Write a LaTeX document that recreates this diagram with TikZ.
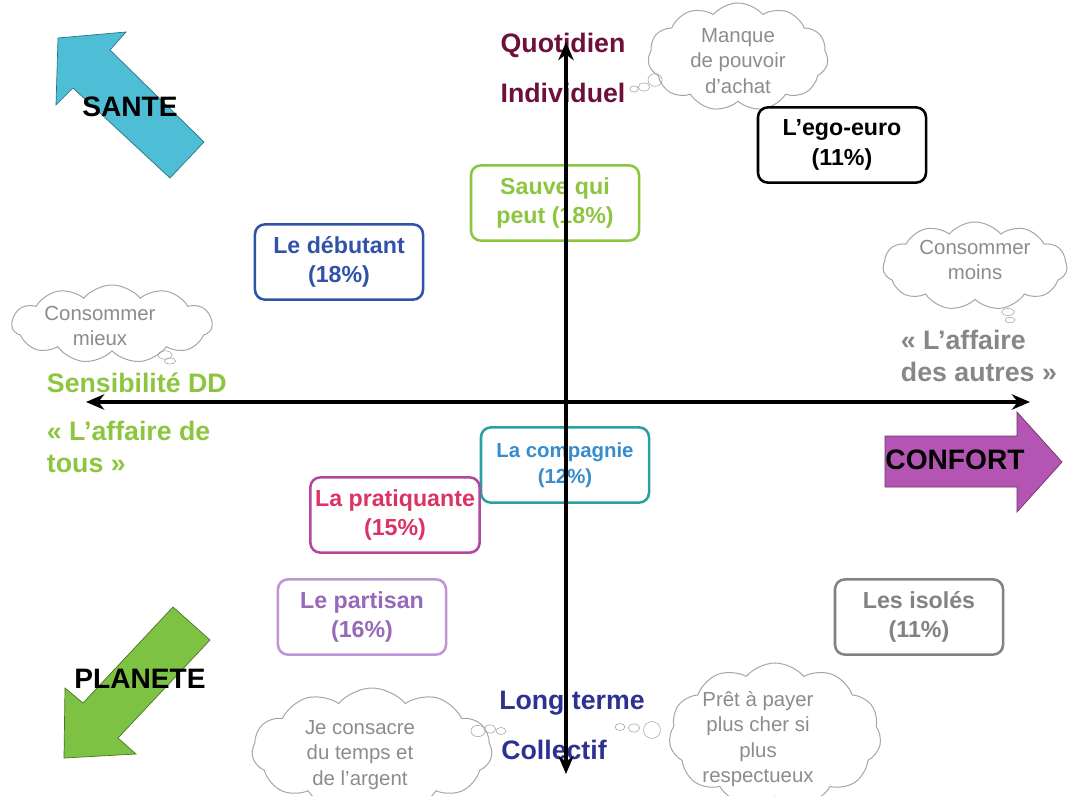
\documentclass[tikz,border=0pt]{standalone}
\usepackage{fontspec}
\setmainfont{Liberation Sans}
\usepackage{xcolor}
\usepackage{tikz}
\usetikzlibrary{shapes.geometric, shapes.symbols, arrows.meta}

\definecolor{santecol}{RGB}{77,190,214}
\definecolor{planetecol}{RGB}{125,194,66}
\definecolor{confortcol}{RGB}{180,85,180}
\definecolor{quotcol}{RGB}{110,15,60}
\definecolor{longcol}{RGB}{45,50,145}
\definecolor{ddgreen}{RGB}{140,198,63}
\definecolor{autrescol}{RGB}{135,135,135}
\definecolor{debcol}{RGB}{48,82,168}
\definecolor{compline}{RGB}{40,160,160}
\definecolor{comptext}{RGB}{55,140,205}
\definecolor{pratline}{RGB}{178,70,160}
\definecolor{prattext}{RGB}{220,50,100}
\definecolor{partline}{RGB}{190,150,215}
\definecolor{parttext}{RGB}{150,105,185}
\definecolor{isolcol}{RGB}{130,130,130}
\definecolor{cloudline}{RGB}{165,165,165}
\definecolor{cloudtext}{RGB}{140,140,140}

\newcommand\grpfont{\fontsize{16.5}{21}\selectfont\bfseries}
\newcommand\axfont{\fontsize{19}{22.5}\selectfont\bfseries}
\newcommand\bubfont{\fontsize{14.5}{18}\selectfont}

\tikzset{
  groupbox/.style={draw, rounded corners=7pt, line width=1.8pt,
    minimum width=4.2cm, minimum height=1.88cm, align=center, font=\grpfont},
  bubble/.style={cloud, cloud puffs=11, cloud puff arc=100, cloud ignores aspect,
    draw=cloudline, line width=0.7pt, inner sep=0pt},
  bubbletext/.style={align=center, text=cloudtext, font=\bubfont},
  axislabel/.style={font=\axfont, align=left},
  bigarrow/.style={line width=0.5pt},
  arrowlabel/.style={font=\fontsize{20}{24}\selectfont\bfseries},
  axis/.style={{Stealth[length=13pt,width=11pt]}-{Stealth[length=13pt,width=11pt]}, line width=2.6pt},
}

\begin{document}
\begin{tikzpicture}[x=0.025cm, y=-0.025cm]
    \useasboundingbox (0,0) rectangle (1076,795);
    \clip (0,0) rectangle (1076,795);
    \fill[white] (0,0) rectangle (1076,795);

    % clouds
    \node[bubble, minimum width=4.5cm, minimum height=2.7cm] (manque) at (738,57) {};
    \node[bubbletext] (manquetxt) at (738,61) {Manque\\de pouvoir\\d'achat};
    \draw[cloudline] (655,80) ellipse (5pt and 4.5pt);
    \draw[cloudline] (644,87) ellipse (4pt and 3pt);
    \draw[cloudline] (634,89) ellipse (3pt and 2.2pt);

    \node[bubble, minimum width=4.6cm, minimum height=2.2cm] (moins) at (975,266) {};
    \node[bubbletext] (moinstxt) at (975,260) {Consommer\\moins};
    \draw[cloudline] (1008,312) ellipse (4.5pt and 2.5pt);
    \draw[cloudline] (1010,320) ellipse (3.5pt and 2pt);

    \node[bubble, minimum width=5cm, minimum height=1.95cm] (mieux) at (112,324) {};
    \node[bubbletext] (mieuxtxt) at (100,326) {Consommer\\mieux};
    \draw[cloudline] (165,355) ellipse (5pt and 3pt);
    \draw[cloudline] (170,361) ellipse (4pt and 2.2pt);

    \node[bubble, minimum width=6cm, minimum height=3.1cm] (consacre) at (372,750) {};
    \node[bubbletext] (consacretxt) at (360,755) {Je consacre\\du temps et\\de l'argent};
    \draw[cloudline] (478,731) ellipse (5pt and 4pt);
    \draw[cloudline] (490,729) ellipse (4pt and 3pt);
    \draw[cloudline] (501,731) ellipse (3.5pt and 2.5pt);

    \node[bubble, minimum width=5.3cm, minimum height=3.6cm] (payer) at (775,735) {};
    \node[bubbletext] (payertxt) at (758,739) {Prêt à payer\\plus cher si\\plus\\respectueux};
    \draw[cloudline] (652,730) ellipse (6pt and 6pt);
    \draw[cloudline] (634,728) ellipse (4pt and 3pt);
    \draw[cloudline] (620,727) ellipse (3.5pt and 2.5pt);

    % big arrows
    \draw[bigarrow, fill=santecol, draw=santecol!60!black]
        (58,38) -- (126,32) -- (110,50) -- (204,142) -- (170,178)
        -- (73,88) -- (56,105) -- cycle;
    \node[arrowlabel] (sante) at (130,107) {SANTE};

    \draw[bigarrow, fill=planetecol, draw=planetecol!60!black]
        (173,607) -- (210,640) -- (118,738) -- (136,754) -- (64,758)
        -- (65,688) -- (83,703) -- cycle;
    \node[arrowlabel] (planete) at (140,679) {PLANETE};

    \draw[bigarrow, fill=confortcol, draw=confortcol!60!black]
        (885,436) -- (1017,436) -- (1017,412) -- (1062,462) -- (1017,512)
        -- (1017,487) -- (885,487) -- cycle;
    \node[arrowlabel] (confort) at (955,460) {CONFORT};

    % groups
    \node[groupbox, draw=black] (egoeuro) at (842,145) {L'ego-euro\\(11\%)};
    \node[groupbox, draw=ddgreen, text=ddgreen] (sauve) at (555,203) {Sauve qui\\peut (18\%)};
    \node[groupbox, draw=debcol, text=debcol] (debutant) at (339,262) {Le débutant\\(18\%)};
    \node[groupbox, draw=compline, text=comptext, font=\fontsize{14.5}{18.5}\selectfont\bfseries]
        (compagnie) at (565,465) {La compagnie\\(12\%)};
    \node[groupbox, draw=pratline, text=prattext] (pratiquante) at (395,515) {La pratiquante\\(15\%)};
    \node[groupbox, draw=partline, text=parttext] (partisan) at (362,617) {Le partisan\\(16\%)};
    \node[groupbox, draw=isolcol, text=isolcol] (isoles) at (919,617) {Les isolés\\(11\%)};

    % axis labels
    \node[axislabel, text=quotcol] (quotidien) at (563,45) {Quotidien};
    \node[axislabel, text=quotcol] (individuel) at (563,93) {Individuel};
    \node[axislabel, text=longcol] (longterme) at (572,703) {Long terme};
    \node[axislabel, text=longcol] (collectif) at (554,750) {Collectif};
    \node[axislabel, text=ddgreen, anchor=west] (sensib) at (42,383) {Sensibilité DD};
    \node[axislabel, text=ddgreen, anchor=west] (tous) at (42,447) {« L'affaire de\\tous »};
    \node[axislabel, text=autrescol, anchor=west] (autres) at (896,356) {« L'affaire\\des autres »};

    % axes
    \coordinate (west) at (86,402);
    \coordinate (east) at (1030,402);
    \coordinate (north) at (566,42);
    \coordinate (south) at (566,774);
    \draw[axis] (west) -- (east);
    \draw[axis] (north) -- (south);
\end{tikzpicture}
\end{document}
